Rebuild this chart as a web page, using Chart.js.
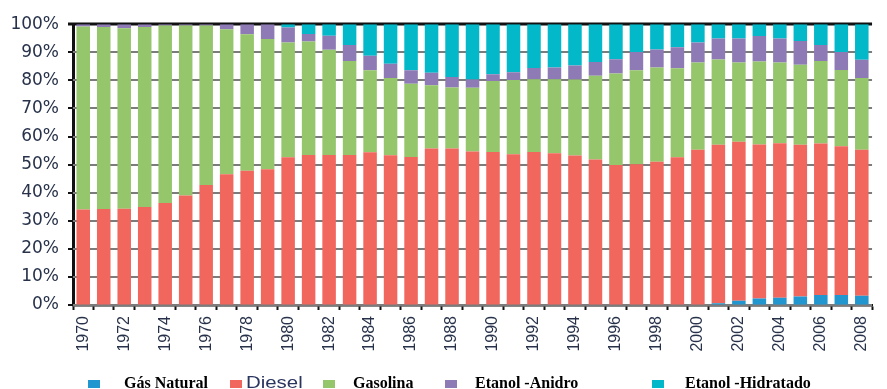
<!DOCTYPE html>
<html>
<head>
<meta charset="utf-8">
<script src="https://cdn.jsdelivr.net/npm/chart.js@4/dist/chart.umd.min.js"></script>
<style>
  html, body { margin: 0; padding: 0; background: #ffffff; }
  #wrap { position: relative; width: 887px; height: 389px; overflow: hidden; }
  #chart { position: absolute; left: 0; top: 0; }
  .lg-box { position: absolute; width: 12px; height: 8px; top: 380px; }
  .lg-txt { position: absolute; top: 375px; line-height: 16px; white-space: nowrap; color: #000; }
  .serif { font-family: "Liberation Serif", "Times New Roman", serif; font-weight: bold; font-size: 16px; }
  .sans { font-family: "Liberation Sans", Arial, sans-serif; font-size: 17px; color: #2a3560;
          transform: scaleX(1.2); transform-origin: left center; top: 375px; }
</style>
</head>
<body>
<div id="wrap">
  <canvas id="chart" width="887" height="389"></canvas>
</div>
<script>
// Participação das fontes no consumo de combustíveis veiculares (%), 1970–2008
const years = [];
for (let y = 1970; y <= 2008; y++) years.push(String(y));

const gasNatural = [
  0, 0, 0, 0, 0, 0, 0, 0, 0, 0,
  0, 0, 0, 0, 0, 0, 0, 0, 0, 0,
  0, 0, 0, 0, 0, 0, 0, 0, 0, 0,
  0.2, 0.6, 1.5, 2.3, 2.6, 3.0, 3.6, 3.6, 3.3
];
const diesel = [
  34.0, 34.2, 34.3, 34.9, 36.3, 39.0, 42.7, 46.6, 47.8, 48.3,
  52.6, 53.4, 53.4, 53.4, 54.4, 53.3, 52.7, 55.7, 55.7, 54.7,
  54.5, 53.7, 54.5, 54.0, 53.2, 51.8, 49.9, 50.1, 51.0, 52.6,
  55.1, 56.5, 56.6, 54.9, 55.0, 54.1, 53.9, 52.9, 52.0
];
const gasolina = [
  65.2, 64.8, 64.3, 64.1, 63.2, 60.5, 56.8, 51.6, 48.6, 46.4,
  40.9, 40.4, 37.5, 33.5, 29.2, 27.5, 26.1, 22.6, 21.8, 22.7,
  25.3, 26.4, 25.9, 26.4, 27.1, 29.8, 32.5, 33.5, 33.6, 31.7,
  31.1, 30.3, 28.3, 29.5, 28.8, 28.5, 29.4, 27.2, 25.5
];
const etanolAnidro = [
  0.8, 1.0, 1.4, 1.0, 0.5, 0.5, 0.5, 1.8, 3.6, 5.3,
  5.3, 2.7, 5.0, 5.7, 5.2, 5.1, 4.8, 4.4, 3.7, 2.9,
  2.4, 2.8, 4.0, 4.2, 5.0, 4.9, 5.1, 6.5, 6.4, 7.5,
  7.1, 7.5, 8.5, 9.1, 8.5, 8.4, 5.7, 6.4, 6.5
];
const etanolHidratado = [
  0, 0, 0, 0, 0, 0, 0, 0, 0, 0,
  1.2, 3.5, 4.1, 7.4, 11.2, 14.1, 16.4, 17.3, 18.8, 19.7,
  17.8, 17.1, 15.6, 15.4, 14.7, 13.5, 12.5, 9.9, 9.0, 8.2,
  6.5, 5.1, 5.1, 4.2, 5.1, 6.0, 7.4, 9.9, 12.7
];
const yTicks = [0, 10, 20, 30, 40, 50, 60, 70, 80, 90, 100];

const seriesNames = ['Gás Natural', 'Diesel', 'Gasolina', 'Etanol -Anidro', 'Etanol -Hidratado'];
const seriesData = [gasNatural, diesel, gasolina, etanolAnidro, etanolHidratado];
const seriesColors = ['#2196cf', '#f1665d', '#95c66c', '#8e7bb6', '#02b8c9'];

const datasets = seriesNames.map((name, i) => ({
  label: name,
  data: seriesData[i],
  backgroundColor: seriesColors[i],
  borderWidth: 0,
  barPercentage: 0.66,
  categoryPercentage: 1.0
}));

const axisText = '#27324a';

// Horizontal gridlines behind the bars; the 100% line is drawn dark like the axes
const gridBehind = {
  id: 'gridBehind',
  beforeDatasetsDraw(chart) {
    const { ctx, chartArea, scales } = chart;
    ctx.save();
    yTicks.forEach(v => {
      const y = Math.round(scales.y.getPixelForValue(v));
      const top = v === 100;
      ctx.strokeStyle = top ? '#111111' : '#7c7c7c';
      ctx.lineWidth = top ? 3 : 2;
      ctx.beginPath();
      ctx.moveTo(chartArea.left - 5, y);
      ctx.lineTo(chartArea.right, y);
      ctx.stroke();
      // short dark tick left of the axis
      ctx.strokeStyle = '#111111';
      ctx.lineWidth = 2;
      ctx.beginPath();
      ctx.moveTo(chartArea.left - 5, y);
      ctx.lineTo(chartArea.left, y);
      ctx.stroke();
    });
    ctx.restore();
  }
};

new Chart(document.getElementById('chart'), {
  type: 'bar',
  data: { labels: years, datasets },
  plugins: [gridBehind],
  options: {
    responsive: false,
    animation: false,
    devicePixelRatio: 1,
    layout: { padding: { top: 19, right: 0, left: 0, bottom: 0 } },
    plugins: { legend: { display: false }, tooltip: { enabled: false } },
    scales: {
      x: {
        stacked: true,
        offset: true,
        grid: {
          offset: true,
          drawOnChartArea: false,
          drawTicks: true,
          tickLength: 5,
          tickColor: '#111111',
          tickWidth: 2
        },
        border: { display: true, color: '#111111', width: 2.5 },
        ticks: {
          autoSkip: false,
          maxRotation: 90,
          minRotation: 90,
          padding: 6,
          color: axisText,
          font: { family: 'Liberation Sans, Arial, sans-serif', size: 16 },
          callback: function (v, i) { return i % 2 === 0 ? this.getLabelForValue(v) : ''; }
        },
        afterFit: s => { s.height = 84; }
      },
      y: {
        stacked: true,
        min: 0,
        max: 100,
        afterBuildTicks: s => { s.ticks = yTicks.map(v => ({ value: v })); },
        grid: {
          drawOnChartArea: false,
          drawTicks: false
        },
        border: { display: true, color: '#111111', width: 3 },
        ticks: {
          padding: 14,
          color: axisText,
          font: { family: 'DejaVu Sans, sans-serif', size: 17 },
          callback: v => v + '%'
        },
        afterFit: s => { s.width = 73; }
      }
    }
  }
});

// Legend below the chart, built from the same series names and colours
const legendLayout = [
  { box: 88,  text: 124, cls: 'serif' },
  { box: 230, text: 246, cls: 'sans' },
  { box: 323, text: 353, cls: 'serif' },
  { box: 445, text: 475, cls: 'serif' },
  { box: 652, text: 685, cls: 'serif' }
];
const wrap = document.getElementById('wrap');
seriesNames.forEach((name, i) => {
  const b = document.createElement('div');
  b.className = 'lg-box';
  b.style.left = legendLayout[i].box + 'px';
  b.style.background = seriesColors[i];
  wrap.appendChild(b);
  const t = document.createElement('div');
  t.className = 'lg-txt ' + legendLayout[i].cls;
  t.style.left = legendLayout[i].text + 'px';
  t.textContent = name;
  wrap.appendChild(t);
});
</script>
</body>
</html>
